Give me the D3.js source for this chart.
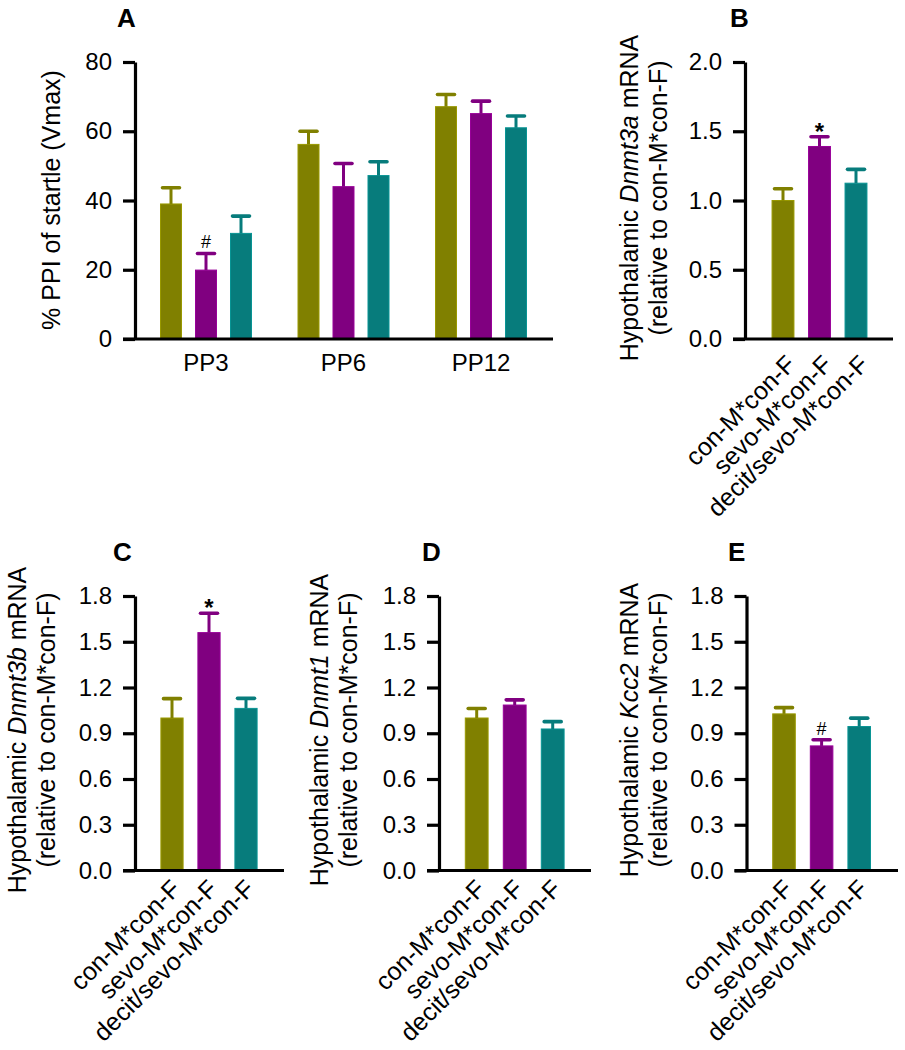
<!DOCTYPE html>
<html><head><meta charset="utf-8">
<script src="https://cdn.jsdelivr.net/npm/d3@7"></script>
<style>
body{margin:0;background:#fff;}
svg{display:block;font-family:"Liberation Sans", Arial, sans-serif;}
</style></head><body>
<svg id="chart" width="905" height="1050"></svg>
<script>
// ---------- DATA ----------
const groupsA = ["PP3", "PP6", "PP12"];
const seriesNames = ["con-M*con-F", "sevo-M*con-F", "decit/sevo-M*con-F"];
const seriesColors = ["#808000", "#800080", "#077c7c"];

// Panel A: % PPI of startle (Vmax), one array per series across PP3/PP6/PP12
const ppiCon = [39.0, 56.2, 67.1];
const ppiConErr = [4.7, 3.8, 3.5];
const ppiSevo = [19.9, 44.0, 65.1];
const ppiSevoErr = [4.8, 6.7, 3.6];
const ppiDecit = [30.5, 47.2, 61.0];
const ppiDecitErr = [5.0, 4.0, 3.4];
const ticksA = [0, 20, 40, 60, 80];

// Panel B: Dnmt3a
const dnmt3aMean = [1.0, 1.39, 1.125];
const dnmt3aErr = [0.085, 0.07, 0.1];
const ticksB = [0, 0.5, 1.0, 1.5, 2.0];

// Panel C: Dnmt3b
const dnmt3bMean = [1.0, 1.56, 1.063];
const dnmt3bErr = [0.127, 0.127, 0.066];

// Panel D: Dnmt1
const dnmt1Mean = [1.0, 1.085, 0.928];
const dnmt1Err = [0.062, 0.034, 0.048];

// Panel E: Kcc2
const kcc2Mean = [1.027, 0.817, 0.944];
const kcc2Err = [0.041, 0.04, 0.055];

const ticksCDE = [0, 0.3, 0.6, 0.9, 1.2, 1.5, 1.8];

// ---------- DRAWING ----------
const svg = d3.select("#chart");
const FONT = '"Liberation Sans", Arial, sans-serif';

function styleAxis(sel) {
  sel.attr("font-family", FONT).attr("font-size", 24);
  sel.selectAll("path.domain").attr("stroke", "#000").attr("stroke-width", 3.2);
  sel.selectAll(".tick line").attr("stroke", "#000").attr("stroke-width", 3.2);
  sel.selectAll(".tick text").attr("fill", "#000");
}

function drawYAxis(cfg, y) {
  const ax = d3.axisLeft(y).tickValues(cfg.ticks).tickFormat(cfg.fmt)
    .tickSizeInner(12).tickSizeOuter(0).tickPadding(11);
  svg.append("g").attr("transform", `translate(${cfg.axisX},0)`).call(ax).call(styleAxis);
  // x baseline, starting at the tick end
  svg.append("line")
    .attr("x1", cfg.axisX - 12).attr("x2", cfg.axisEnd)
    .attr("y1", y(0)).attr("y2", y(0))
    .attr("stroke", "#000").attr("stroke-width", 3.2);
}

function drawTitle(cfg) {
  cfg.titleLines.forEach((line, li) => {
    const tl = svg.append("text")
      .attr("transform", `translate(${cfg.titleX + li * cfg.titleGap},${cfg.titleY}) rotate(-90)`)
      .attr("text-anchor", "middle").attr("font-size", 25).attr("font-family", FONT).attr("fill", "#000");
    line.forEach(seg => {
      tl.append("tspan").text(seg.t).attr("font-style", seg.i ? "italic" : "normal");
    });
  });
}

function drawLetter(letter, x, y) {
  svg.append("text").attr("x", x).attr("y", y).text(letter)
    .attr("font-size", 26).attr("font-weight", "bold").attr("font-family", FONT);
}

function drawBarsWithErr(g, items, y) {
  g.selectAll("rect").data(items).join("rect")
    .attr("x", d => d.x).attr("width", d => d.w)
    .attr("y", d => y(d.v)).attr("height", d => y(0) - y(d.v))
    .attr("fill", d => d.color)
    .attr("stroke", d => d3.color(d.color).brighter(0.5)).attr("stroke-width", 1);
  g.selectAll("line.stem").data(items).join("line").attr("class", "stem")
    .attr("x1", d => d.x + d.w / 2).attr("x2", d => d.x + d.w / 2)
    .attr("y1", d => y(d.v)).attr("y2", d => y(d.v + d.e))
    .attr("stroke", d => d.color).attr("stroke-width", 3);
  g.selectAll("line.cap").data(items).join("line").attr("class", "cap")
    .attr("x1", d => d.x + d.w / 2 - 8.5).attr("x2", d => d.x + d.w / 2 + 8.5)
    .attr("y1", d => y(d.v + d.e)).attr("y2", d => y(d.v + d.e))
    .attr("stroke", d => d.color).attr("stroke-width", 3.6).attr("stroke-linecap", "round");
}

function drawMark(sym, x, yCap) {
  if (sym === "*") {
    svg.append("text").attr("x", x).attr("y", yCap + 3).attr("text-anchor", "middle")
      .attr("font-size", 24).attr("font-weight", "bold").attr("font-family", FONT).text("*");
  } else {
    svg.append("text").attr("x", x).attr("y", yCap - 5).attr("text-anchor", "middle")
      .attr("font-size", 18).attr("font-family", FONT).text("#");
  }
}

// ---- Panel A ----
(function () {
  const cfg = { axisX: 135, axisEnd: 553, yTop: 62, yBot: 339, ticks: ticksA, fmt: d3.format("d") };
  const y = d3.scaleLinear().domain([0, 80]).range([cfg.yBot, cfg.yTop]);
  const xg = d3.scaleBand().domain(groupsA).range([137.25, 549.75]).padding(0);
  const xs = d3.scaleBand().domain(seriesNames).range([-52.5, 52.5]).paddingInner(0.4).paddingOuter(0.2);
  const means = [ppiCon, ppiSevo, ppiDecit];
  const errs = [ppiConErr, ppiSevoErr, ppiDecitErr];
  const items = [];
  groupsA.forEach((gName, gi) => {
    seriesNames.forEach((s, si) => {
      items.push({
        x: xg(gName) + xg.bandwidth() / 2 + xs(s), w: xs.bandwidth(),
        v: means[si][gi], e: errs[si][gi], color: seriesColors[si]
      });
    });
  });
  drawBarsWithErr(svg.append("g"), items, y);
  drawYAxis(cfg, y);
  const xa = d3.axisBottom(xg).tickSize(0).tickPadding(15);
  svg.append("g").attr("transform", `translate(0,${cfg.yBot})`).call(xa).call(styleAxis)
    .call(s => s.select("path.domain").remove());
  drawTitle({ titleX: 60, titleY: 200, titleGap: 0, titleLines: [[{ t: "% PPI of startle (Vmax)" }]] });
  drawLetter("A", 117, 27);
  const it = items[1];
  drawMark("#", it.x + it.w / 2, y(it.v + it.e));
})();

// ---- Single-series panels ----
function singlePanel(cfg, means, errs) {
  const y = d3.scaleLinear().domain([0, cfg.yMax]).range([cfg.yBot, cfg.yTop]);
  const x = d3.scaleBand().domain(seriesNames).range(cfg.xRange).paddingInner(0.4).paddingOuter(0.2);
  const items = seriesNames.map((s, i) => ({
    x: x(s), w: x.bandwidth(), v: means[i], e: errs[i], color: seriesColors[i]
  }));
  drawBarsWithErr(svg.append("g"), items, y);
  drawYAxis(cfg, y);
  const xa = d3.axisBottom(x).tickSize(0);
  const gx = svg.append("g").attr("transform", `translate(0,${cfg.yBot})`).call(xa).call(styleAxis);
  gx.select("path.domain").remove();
  gx.selectAll(".tick text")
    .attr("x", 0).attr("y", 0).attr("dy", 0)
    .attr("text-anchor", "end")
    .attr("font-size", 25)
    .attr("transform", `translate(${cfg.labelShift[0]},${cfg.labelShift[1]}) rotate(-45)`);
  drawTitle(cfg);
  drawLetter(cfg.letter, cfg.letterX, cfg.letterY);
  if (cfg.mark) {
    const it = items[cfg.mark.idx];
    drawMark(cfg.mark.sym, it.x + it.w / 2, y(it.v + it.e));
  }
}

singlePanel({
  axisX: 745, axisEnd: 893, yTop: 62, yBot: 339, yMax: 2.0, ticks: ticksB, fmt: d3.format(".1f"),
  xRange: [764.75, 874.25], letter: "B", letterX: 730, letterY: 27, labelShift: [14, 27],
  titleX: 638, titleY: 198, titleGap: 29,
  titleLines: [[{ t: "Hypothalamic " }, { t: "Dnmt3a", i: true }, { t: " mRNA" }], [{ t: "(relative to con-M*con-F)" }]],
  mark: { idx: 1, sym: "*" }
}, dnmt3aMean, dnmt3aErr);

singlePanel({
  axisX: 135, axisEnd: 284, yTop: 596, yBot: 870.5, yMax: 1.8, ticks: ticksCDE, fmt: d3.format(".1f"),
  xRange: [153.5, 264.5], letter: "C", letterX: 113, letterY: 561, labelShift: [10, 20],
  titleX: 26, titleY: 730, titleGap: 29,
  titleLines: [[{ t: "Hypothalamic " }, { t: "Dnmt3b", i: true }, { t: " mRNA" }], [{ t: "(relative to con-M*con-F)" }]],
  mark: { idx: 1, sym: "*" }
}, dnmt3bMean, dnmt3bErr);

singlePanel({
  axisX: 439, axisEnd: 591, yTop: 596, yBot: 870.5, yMax: 1.8, ticks: ticksCDE, fmt: d3.format(".1f"),
  xRange: [457.7, 571.7], letter: "D", letterX: 422, letterY: 561, labelShift: [10, 20],
  titleX: 328, titleY: 730, titleGap: 29,
  titleLines: [[{ t: "Hypothalamic " }, { t: "Dnmt1", i: true }, { t: " mRNA" }], [{ t: "(relative to con-M*con-F)" }]]
}, dnmt1Mean, dnmt1Err);

singlePanel({
  axisX: 746.5, axisEnd: 898, yTop: 596, yBot: 870.5, yMax: 1.8, ticks: ticksCDE, fmt: d3.format(".1f"),
  xRange: [765.2, 878.0], letter: "E", letterX: 728, letterY: 561, labelShift: [10, 20],
  titleX: 638, titleY: 730, titleGap: 29,
  titleLines: [[{ t: "Hypothalamic " }, { t: "Kcc2", i: true }, { t: " mRNA" }], [{ t: "(relative to con-M*con-F)" }]],
  mark: { idx: 1, sym: "#" }
}, kcc2Mean, kcc2Err);
</script></body></html>
